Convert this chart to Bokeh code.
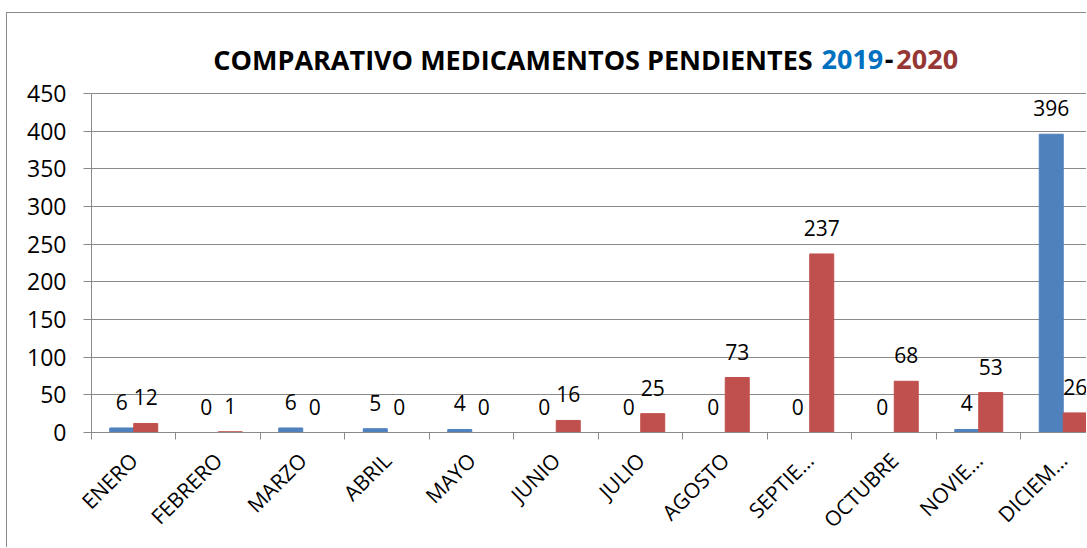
import math
from bokeh.plotting import figure
from bokeh.models import (ColumnDataSource, Range1d, FixedTicker, Label, LabelSet)
from bokeh.core.properties import value
from bokeh.transform import dodge
from bokeh.embed import file_html
from bokeh.resources import INLINE

months = ["ENERO", "FEBRERO", "MARZO", "ABRIL", "MAYO", "JUNIO", "JULIO",
          "AGOSTO", "SEPTIEMBRE", "OCTUBRE", "NOVIEMBRE", "DICIEMBRE"]
tick_labels = ["ENERO", "FEBRERO", "MARZO", "ABRIL", "MAYO", "JUNIO", "JULIO",
               "AGOSTO", "SEPTIE…", "OCTUBRE", "NOVIE…", "DICIEM…"]
v2019 = [6, 0, 6, 5, 4, 0, 0, 0, 0, 0, 4, 396]
v2020 = [12, 1, 0, 0, 0, 16, 25, 73, 237, 68, 53, 26]
y_ticks = [0, 50, 100, 150, 200, 250, 300, 350, 400, 450]
y_max = 450

title_main = "COMPARATIVO MEDICAMENTOS PENDIENTES"
title_y1 = "2019"
title_sep = "-"
title_y2 = "2020"

BLUE = "#4F81BD"
RED = "#C0504D"
GRAY = "#898989"
FONT = "Open Sans"

n = len(months)
centers = [i + 0.5 for i in range(n)]
src = ColumnDataSource(dict(
    x=centers, y19=v2019, y20=v2020,
    l19=[str(v) for v in v2019], l20=[str(v) for v in v2020],
))

W, H = 1080, 535
# frame reaches to the top of the canvas so the title can sit inside it
p = figure(width=W, height=H,
           x_range=Range1d(0, 11.787), y_range=Range1d(0, 556.2),
           output_backend="svg", toolbar_location=None,
           min_border_left=84, min_border_right=0,
           min_border_top=0, min_border_bottom=116)
p.styles = {"border-left": "1px solid " + GRAY, "border-top": "1px solid " + GRAY,
            "margin-top": "12px", "margin-left": "6px"}
p.outline_line_color = None
p.background_fill_color = "white"
p.border_fill_color = "white"

bw = 0.284
p.vbar(x=dodge("x", -bw / 2), top="y19", width=bw, bottom=0, source=src,
       fill_color=BLUE, line_color=BLUE)
p.vbar(x=dodge("x", bw / 2), top="y20", width=bw, bottom=0, source=src,
       fill_color=RED, line_color=RED)

for col, lab, off in (("y19", "l19", -bw / 2), ("y20", "l20", bw / 2)):
    p.add_layout(LabelSet(x=dodge("x", off), y=col, text=lab, source=src,
                          y_offset=18, text_align="center",
                          text_baseline="alphabetic",
                          text_font=value(FONT), text_font_size=value("21px"),
                          text_color="black"))

# axes
xa = p.xaxis[0]
xa.ticker = FixedTicker(ticks=centers, minor_ticks=list(range(n + 1)))
xa.major_label_overrides = {c: t for c, t in zip(centers, tick_labels)}
xa.major_label_orientation = math.pi / 4
xa.major_tick_line_color = None
xa.major_tick_out = 0
xa.major_tick_in = 0
xa.minor_tick_out = 7
xa.minor_tick_in = 0
xa.minor_tick_line_color = GRAY
xa.axis_line_color = GRAY
xa.major_label_text_font = FONT
xa.major_label_text_font_size = "21px"
xa.major_label_text_color = "black"
xa.major_label_standoff = 17

ya = p.yaxis[0]
ya.ticker = FixedTicker(ticks=y_ticks)
ya.bounds = (0, y_max)
ya.major_tick_out = 8
ya.major_tick_in = 0
ya.minor_tick_line_color = None
ya.major_tick_line_color = GRAY
ya.axis_line_color = GRAY
ya.major_label_text_font = FONT
ya.major_label_text_font_size = "23px"
ya.major_label_text_color = "black"
ya.major_label_standoff = 17

p.xgrid.visible = False
p.ygrid.ticker = FixedTicker(ticks=y_ticks)
p.ygrid.grid_line_color = GRAY
p.ygrid.grid_line_width = 1

# multi-coloured title
ty = 494.5
for txt, xpos, color in ((title_main, 4.988, "black"),
                         (title_y1, 9.005, "#0070C0"),
                         (title_sep, 9.440, "black"),
                         (title_y2, 9.890, "#953735")):
    p.add_layout(Label(x=xpos, y=ty, text=txt, text_align="center",
                       text_baseline="alphabetic", text_font=FONT,
                       text_font_style="bold", text_font_size="27px",
                       text_color=color))

open("out.html", "w").write(file_html(p, INLINE))
